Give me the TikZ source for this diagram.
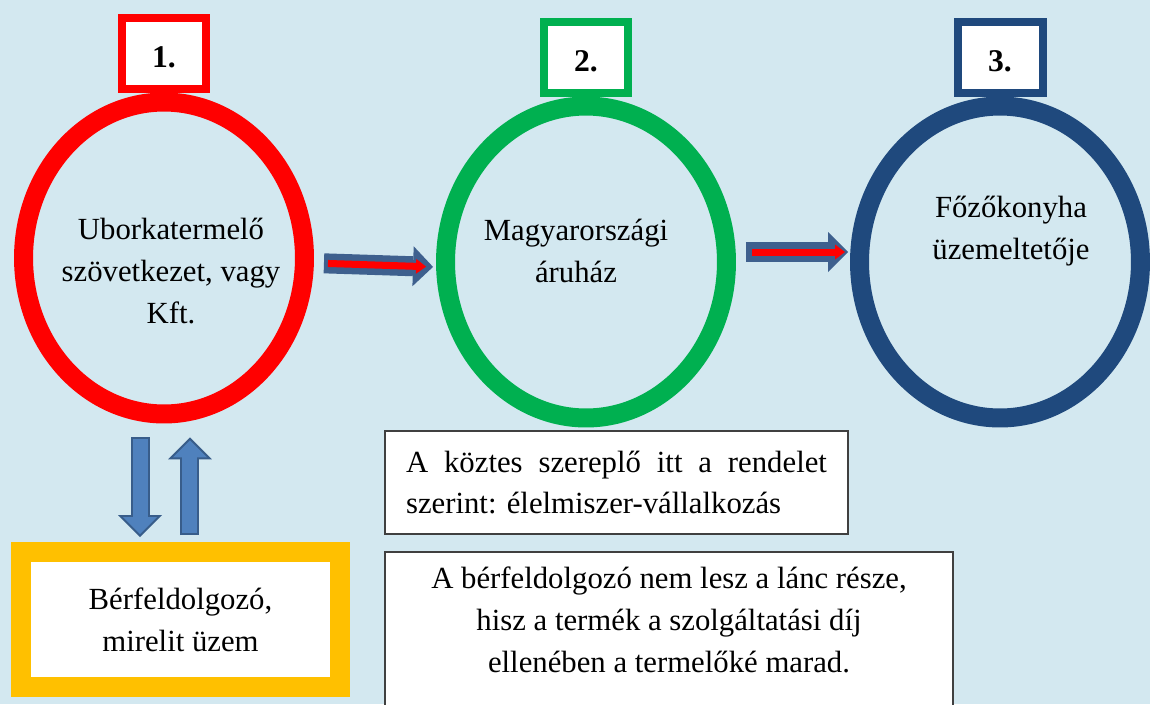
\documentclass[tikz,border=0pt]{standalone}
\usepackage{fontspec}
\setmainfont{Liberation Serif}
\usepackage{tikz}
\usetikzlibrary{arrows.meta, positioning, shapes.geometric}
\definecolor{bgblue}{RGB}{211,232,240}
\definecolor{ringred}{RGB}{255,0,0}
\definecolor{ringgreen}{RGB}{0,176,80}
\definecolor{ringblue}{RGB}{31,73,125}
\definecolor{boxyellow}{RGB}{255,192,0}
\definecolor{arrowblue}{RGB}{79,129,189}
\definecolor{arrowedge}{RGB}{56,93,138}
\definecolor{arrowdark}{RGB}{62,96,142}
\tikzstyle{stage} = [ellipse, draw, line width=0.38cm, minimum width=5.62cm, minimum height=6.24cm]
\tikzstyle{stagetext} = [align=center, font=\fontsize{17.5}{24}\selectfont]
\tikzstyle{numbox} = [rectangle, fill=white, line width=0.16cm, minimum width=1.7cm, minimum height=1.42cm, text height=0.58cm, font=\bfseries\fontsize{18}{20}\selectfont]
\tikzstyle{flow} = [line width=0.4cm, draw=arrowdark, -{Triangle[length=0.4cm, width=0.8cm, line width=0pt]}]
\tikzstyle{flowcore} = [line width=0.14cm, draw=ringred, -{Triangle[length=0.2cm, width=0.3cm, line width=0pt]}]
\tikzstyle{move} = [line width=0.38cm, draw=arrowedge, -{Triangle[length=0.44cm, width=0.88cm, line width=0pt]}]
\tikzstyle{movecore} = [line width=0.30cm, draw=arrowblue, -{Triangle[length=0.34cm, width=0.68cm, line width=0pt]}]
\tikzset{
	infobox/.style = {rectangle, draw=black!75, fill=white, line width=0.04cm,
		font=\fontsize{17.5}{23.8}\selectfont},
	workbox/.style = {rectangle, draw=boxyellow, fill=white, line width=0.4cm,
		minimum width=6.38cm, minimum height=2.7cm, align=center,
		font=\fontsize{17.5}{23.8}\selectfont}
}

\begin{document}
\begin{tikzpicture}[x=0.02cm, y=-0.02cm]
\useasboundingbox (0,0) rectangle (1150,704);
\clip (0,0) rectangle (1150,704);
\fill [bgblue] (0,0) rectangle (1150,704);
%----------------------------------------------------------------------------
% Chain members
\node (uborka) [stage, draw=ringred] at (164,258) {};
\node (magyar) [stage, draw=ringgreen] at (586,262) {};
\node (fozo) [stage, draw=ringblue] at (1000,262) {};

\node (uborkaText) [stagetext] at (171,271) {Uborkatermelő\\szövetkezet, vagy\\Kft.};
\node (magyarText) [stagetext] at (576,251) {Magyarországi\\áruház};
\node (fozoText) [stagetext] at (1011,231) {Főzőkonyha\\üzemeltetője};

\node (numOne) [numbox, draw=ringred, above=0pt of uborka] {1.};
\node (numTwo) [numbox, draw=ringgreen, above=0pt of magyar] {2.};
\node (numThree) [numbox, draw=ringblue, above=0pt of fozo] {3.};

\node (berfel) [workbox] at (180.5,619.5) {Bérfeldolgozó,\\mirelit üzem};

%----------------------------------------------------------------------------
% Arrows
\draw [flow, shorten <=0.2cm, shorten >=0.06cm] ([yshift=-0.1cm]uborka.east) -- ([yshift=-0.1cm]magyar.west);
\draw [flowcore, shorten <=0.28cm, shorten >=0.2cm] ([yshift=-0.1cm]uborka.east) -- ([yshift=-0.1cm]magyar.west);
\draw [flow, shorten <=0.2cm, shorten >=0.04cm] ([yshift=0.2cm]magyar.east) -- ([yshift=0.2cm]fozo.west);
\draw [flowcore, shorten <=0.32cm, shorten >=0.1cm] ([yshift=0.2cm]magyar.east) -- ([yshift=0.2cm]fozo.west);

\draw [move, shorten <=0.28cm, shorten >=0.1cm] ([xshift=-0.48cm]uborka.south) -- ([xshift=-0.48cm]uborka.south |- berfel.north);
\draw [movecore, shorten <=0.32cm, shorten >=0.16cm] ([xshift=-0.48cm]uborka.south) -- ([xshift=-0.48cm]uborka.south |- berfel.north);
\draw [move, shorten <=0.14cm, shorten >=0.28cm] ([xshift=0.52cm]uborka.south |- berfel.north) -- ([xshift=0.52cm]uborka.south);
\draw [movecore, shorten <=0.18cm, shorten >=0.34cm] ([xshift=0.52cm]uborka.south |- berfel.north) -- ([xshift=0.52cm]uborka.south);

%----------------------------------------------------------------------------
% Notes
\node (koztes) [infobox, text width=8.42cm, inner xsep=0.42cm, minimum height=2.06cm, align=justify] at (616.5,482.5)
{A köztes szereplő itt a rendelet\linebreak szerint: élelmiszer-vállalkozás};

\node (berNote) [infobox, anchor=north, minimum width=11.36cm, inner ysep=0.3cm, text depth=3cm, align=center] at (669,551)
{A bérfeldolgozó nem lesz a lánc része,\\hisz a termék a szolgáltatási díj\\ellenében a termelőké marad.};

\end{tikzpicture}
\end{document}
